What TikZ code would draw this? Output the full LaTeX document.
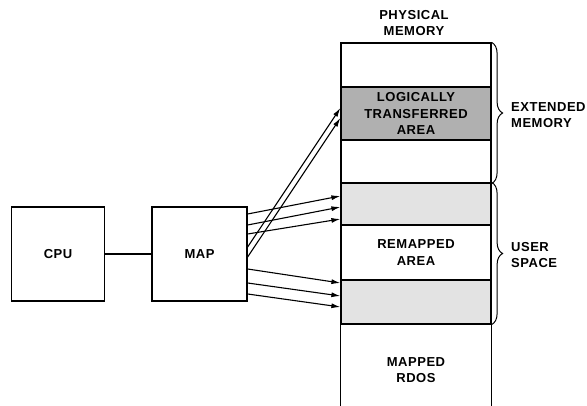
\documentclass[tikz,border=0pt]{standalone}
\usepackage{fontspec}
\setmainfont{Liberation Sans}[LetterSpace=4.0]
\usetikzlibrary{arrows.meta,decorations.pathreplacing}

\tikzset{
  unit/.style={draw, line width=1.3pt, minimum width=93pt, minimum height=94pt, inner sep=0pt},
  cell/.style={draw, line width=1.2pt, minimum width=150pt, inner sep=0pt, align=center},
  litegray/.style={fill=gray!22},
  darkgray/.style={fill=gray!62},
  memlabel/.style={anchor=west, align=left, inner sep=0pt},
  link/.style={line width=1.1pt, ->}
}

\begin{document}
\begin{tikzpicture}[x=1pt, y=-1pt, >={Latex[length=9pt,width=5pt]},
    font=\bfseries\fontsize{13}{16.5}\selectfont]
    \useasboundingbox (0,0) rectangle (587,406);

    % CPU und MAP
    \node[unit] (cpu) at (58,254) {CPU};
    \node[unit, minimum width=95pt] (map) at (199.5,254) {MAP};
    \draw[line width=1.1pt] (cpu) -- (map);

    % Speichersaeule
    \node[align=center] (phys) at (414,23) {PHYSICAL\\MEMORY};
    \node[cell, minimum height=44pt] (top) at (416,65) {};
    \node[cell, darkgray, minimum height=53pt] (lta) at (416,113.5) {LOGICALLY\\TRANSFERRED\\AREA};
    \node[cell, minimum height=43pt] (free) at (416,161.5) {};
    \node[cell, litegray, minimum height=42pt] (upper) at (416,204) {};
    \node[cell, minimum height=55pt] (remap) at (416,252.5) {REMAPPED\\AREA};
    \node[cell, litegray, minimum height=44pt] (lower) at (416,302) {};
    \node[align=center] (rdos) at (416,370) {MAPPED\\RDOS};
    \draw[line width=1.2pt] (lower.south west) -- ++(0,84);
    \draw[line width=1.2pt] (lower.south east) -- ++(0,84);
    \draw[line width=1.6pt] (upper.north west) -- (upper.north east);
    \draw[line width=1.6pt] (lower.south west) -- (lower.south east);

    % Klammern
    \draw[line width=1pt, decorate, decoration={brace, amplitude=11pt}]
        (top.north east) -- (free.south east);
    \draw[line width=1pt, decorate, decoration={brace, amplitude=11pt}]
        (upper.north east) -- (lower.south east);
    \node[memlabel] (ext) at (511,115) {EXTENDED\\MEMORY};
    \node[memlabel] (user) at (511,255) {USER\\SPACE};

    % Pfeile von MAP
    \draw[link] ([yshift=40pt]map.east) -- ([yshift=8pt]upper.west);
    \draw[link] ([yshift=29pt]map.east) -- ([yshift=-3pt]upper.west);
    \draw[link] ([yshift=20pt]map.east) -- ([yshift=-15pt]upper.west);
    \draw[link] ([yshift=7pt]map.east) -- ([yshift=5.5pt]lta.west);
    \draw[link] ([yshift=-3pt]map.east) -- ([yshift=-4.5pt]lta.west);
    \draw[link] ([yshift=-15pt]map.east) -- ([yshift=19pt]lower.west);
    \draw[link] ([yshift=-29pt]map.east) -- ([yshift=6pt]lower.west);
    \draw[link] ([yshift=-40pt]map.east) -- ([yshift=-5pt]lower.west);
\end{tikzpicture}
\end{document}
